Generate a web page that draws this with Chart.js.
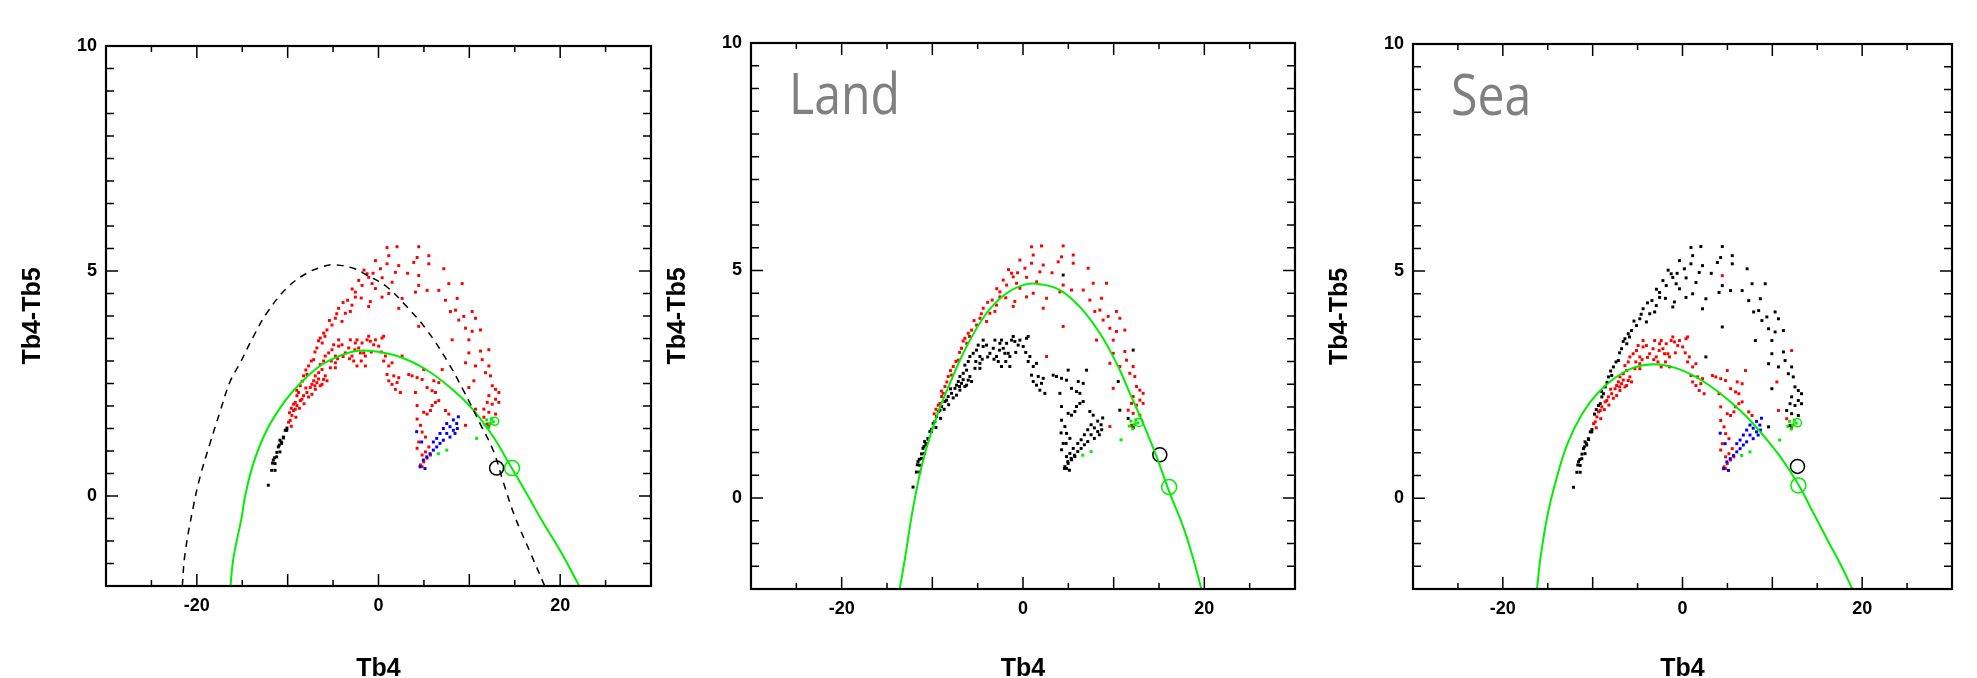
<!DOCTYPE html>
<html>
<head>
<meta charset="utf-8">
<script src="https://cdn.jsdelivr.net/npm/chart.js@4.4.1/dist/chart.umd.min.js"></script>
<style>
  html, body { margin: 0; padding: 0; background: #fff; }
  #wrap { position: relative; width: 1977px; height: 678px; overflow: hidden; background: #fff; }
  #wrap canvas { position: absolute; top: 0; }
</style>
</head>
<body>
<div id="wrap">
  <canvas id="p1" width="690" height="678" style="left:0px"></canvas>
  <canvas id="p2" width="680" height="678" style="left:660px"></canvas>
  <canvas id="p3" width="657" height="678" style="left:1320px"></canvas>
</div>
<script>
// ---- axis ticks (same for the three panels)
const xTickValues = [-30, -25, -20, -15, -10, -5, 0, 5, 10, 15, 20, 25, 30];
const xTickLabels = [-20, 0, 20];
const yTickValues = [-2, -1.5, -1, -0.5, 0, 0.5, 1, 1.5, 2, 2.5, 3, 3.5, 4, 4.5, 5,
  5.5, 6, 6.5, 7, 7.5, 8, 8.5, 9, 9.5, 10];
const yTickLabels = [0, 5, 10];

// ---- pixel classes, shared by all panels [Tb4, Tb4-Tb5]
const tailPts = [[-12.13, 0.24], [-11.76, 0.57], [-11.39, 0.72], [-11.58, 0.80], [-11.21, 0.87],
  [-10.85, 0.98], [-11.03, 1.09], [-10.66, 1.17], [-10.48, 1.31], [-10.85, 1.24], [-10.1, 1.46],
  [-11.39, 0.57], [-10.27, 1.46], [-11.66, 0.73], [-11.44, 0.85], [-11.19, 0.97], [-10.93, 1.13],
  [-10.71, 1.20], [-10.45, 1.29], [-10.08, 1.51]];

const landPts = [[0.94, 5.52], [2.04, 5.54], [4.43, 5.54], [1.13, 5.34], [0.94, 5.16], [2.23, 5.12],
  [1.86, 4.97], [-0.34, 5.23], [0.21, 5.05], [4.25, 5.30], [5.54, 5.34], [3.88, 5.19], [5.54, 5.16],
  [7.19, 5.05], [4.43, 4.68], [4.07, 4.53], [5.35, 4.57], [6.64, 4.57], [7.74, 4.72], [9.21, 4.72],
  [7.37, 4.35], [8.66, 4.39], [8.84, 3.91], [9.39, 3.99], [10.31, 4.10], [10.68, 3.95], [9.58, 3.73],
  [10.31, 3.66], [11.23, 3.69], [9.95, 3.47], [8.11, 3.47], [8.48, 4.13], [7.92, 4.10], [4.43, 3.77],
  [2.60, 4.39], [2.23, 4.17], [1.13, 4.50], [0.39, 4.42], [-1.08, 4.21], [-0.90, 4.32], [-2.18, 4.79],
  [-1.81, 4.68], [-2.55, 4.53], [-1.08, 4.86], [-0.71, 4.72], [-0.34, 4.61], [-1.26, 4.94],
  [-2.55, 4.42], [-2.92, 4.24], [-3.65, 4.06], [-3.10, 4.10], [-4.39, 4.17], [-4.75, 3.95],
  [-4.02, 3.88], [-5.12, 3.80], [-5.67, 3.69], [-6.04, 3.62], [-6.41, 3.51], [-6.78, 3.29],
  [-7.14, 3.03], [-7.69, 2.89], [-7.88, 2.70], [-8.25, 2.67], [-8.61, 2.45], [-8.80, 2.30],
  [-8.98, 2.23], [-9.35, 2.04], [-9.16, 2.08], [-6.2, 3.40], [-5.9, 3.55], [-7.4, 3.00],
  [-8.4, 2.55], [-9.6, 1.95], [-3.4, 4.35], [-1.6, 5.02], [1.5, 4.75], [3.2, 4.95],
  [-9.8, 1.85], [-9.0, 2.35], [-8.0, 2.80], [-7.0, 3.20], [-6.6, 3.45], [-5.4, 3.90], [-4.6, 4.05],
  [-3.9, 4.30], [-2.9, 4.60], [-1.9, 4.40], [-0.6, 4.95], [0.4, 4.85],
  [9.95, 3.18], [9.58, 2.96], [10.68, 2.89], [11.23, 3.22], [11.42, 3.03], [12.15, 2.89],
  [11.78, 2.74], [12.33, 2.67], [12.52, 2.45], [12.89, 2.37], [13.25, 2.30], [12.15, 2.23],
  [12.89, 2.15], [12.52, 2.04], [13.25, 2.08], [11.97, 2.08], [11.60, 1.93], [12.15, 1.86],
  [12.89, 1.82], [9.95, 2.41], [9.58, 1.57], [11.97, 1.60], [2.60, 3.11]];

const seaPts = [[-9.90, 1.64], [-9.72, 1.68], [-9.53, 1.79], [-9.35, 1.90], [-9.16, 1.93],
  [-8.98, 2.01], [-8.61, 2.12], [-8.43, 2.15], [-8.25, 2.23], [-7.88, 2.30], [-7.51, 2.41],
  [-7.33, 2.48], [-7.14, 2.56], [-6.96, 2.67], [-6.59, 2.74], [-6.22, 2.81], [-6.41, 2.92],
  [-6.04, 3.00], [-5.86, 3.11], [-5.49, 3.18], [-5.12, 3.25], [-4.94, 3.36], [-4.75, 3.11],
  [-4.75, 2.96], [-5.67, 2.56], [-6.04, 2.59], [-6.78, 2.52], [-6.96, 2.37], [-7.33, 2.26],
  [-6.41, 2.45], [-5.86, 2.67], [-6.22, 2.48],
  [-9.6, 1.55], [-9.1, 1.75], [-8.7, 1.95], [-8.2, 2.05], [-7.7, 2.20], [-7.0, 2.45], [-6.6, 2.60],
  [-5.3, 2.85], [-4.5, 3.05], [-3.9, 3.10], [-3.2, 3.05], [-2.6, 3.25], [-1.9, 3.00], [-0.8, 3.20],
  [0.3, 3.20], [-5.2, 3.00], [-8.0, 2.40],
  [-4.39, 3.33], [-4.02, 3.36], [-3.65, 3.18], [-3.28, 3.29], [-3.10, 3.47], [-2.92, 3.11],
  [-2.55, 3.40], [-2.37, 3.47], [-2.18, 3.29], [-2.00, 3.18], [-1.81, 3.40], [-1.63, 3.18],
  [-1.45, 3.11], [-1.26, 3.47], [-1.08, 3.55], [-0.90, 3.44], [-0.53, 3.36], [-0.34, 3.47],
  [0.02, 3.33], [0.39, 3.51], [0.57, 3.55], [-2.73, 3.00], [-2.37, 2.89], [-1.45, 2.89],
  [-4.75, 2.85], [-4.39, 3.47],
  [0.76, 3.11], [0.57, 3.00], [1.13, 2.89], [1.49, 2.96], [0.94, 2.70], [1.13, 2.56], [1.49, 2.48],
  [1.86, 2.37], [2.04, 2.52], [2.23, 2.63], [2.41, 2.30], [1.68, 2.67],
  [3.33, 2.70], [3.70, 2.67], [4.25, 2.63], [4.80, 2.59], [4.98, 2.81], [6.09, 2.56], [6.64, 2.52],
  [7.01, 2.81], [5.35, 2.41], [5.90, 2.34], [6.27, 2.30], [4.07, 2.30], [4.25, 2.01], [4.98, 1.86],
  [5.35, 1.82], [5.72, 1.90], [5.90, 2.01], [6.27, 2.08], [6.64, 2.12], [4.25, 1.71], [4.62, 1.57],
  [4.80, 1.42], [5.17, 1.31], [4.43, 1.20], [4.25, 1.06], [5.54, 1.09], [5.17, 0.98], [4.80, 0.91],
  [5.35, 0.84], [4.98, 0.76], [4.80, 0.65], [4.62, 0.69], [5.72, 0.91], [7.37, 1.90], [7.74, 1.82],
  [10.68, 1.93], [10.50, 2.56], [12.15, 3.25], [11.60, 1.75], [4.43, 4.90], [12.15, 1.55]];

const bluePts = [[8.24, 1.69], [8.61, 1.61], [7.87, 1.54], [8.24, 1.46], [7.51, 1.39], [7.87, 1.31],
  [7.14, 1.24], [6.77, 1.17], [6.41, 1.09], [6.04, 1.02], [5.67, 0.94], [5.31, 0.87], [4.94, 0.80],
  [4.57, 0.65], [5.12, 0.61], [4.20, 1.43], [8.79, 1.76], [8.42, 1.39], [8.68, 1.50], [7.51, 1.61],
  [7.14, 1.50], [6.77, 1.39], [6.41, 1.28], [6.04, 1.20], [4.75, 1.20]];

const greenPts = [[11.91, 1.69], [12.28, 1.61], [12.46, 1.72], [12.65, 1.65], [11.72, 1.58],
  [10.81, 1.28], [7.51, 1.02], [6.59, 0.94], [12.1, 1.52]];
const greenRing = [[12.8, 1.66]];

// ---- fitted curves
const fitAll = [[-16.3, -2], [-15.98, -1.39], [-15.06, -0.47], [-14.7, -0.02], [-13.78, 0.72],
  [-12.31, 1.46], [-10.48, 2.06], [-8.64, 2.5], [-6.8, 2.84], [-5.34, 3.02], [-2.77, 3.21],
  [-0.75, 3.22], [2.37, 3.09], [5.31, 2.8], [8.24, 2.35], [10.45, 1.91], [12.65, 1.31],
  [14.5, 0.68], [16.32, 0.05], [17.97, -0.54], [20.1, -1.25], [22.1, -2]];
const fitDashed = [[-21.6, -2], [-21.3, -1.28], [-20.39, -0.24], [-19.65, 0.42], [-18.55, 1.17],
  [-17.45, 1.87], [-16.35, 2.54], [-15.25, 2.95], [-13.78, 3.54], [-12.31, 4.06], [-10.1, 4.62],
  [-7.9, 4.95], [-6.07, 5.1], [-4.97, 5.14], [-2.77, 5.06], [-1.3, 4.91], [0.9, 4.65], [3.1, 4.21],
  [5.31, 3.69], [7.51, 3.02], [9.34, 2.35], [11.18, 1.61], [12.65, 1.0], [13.75, 0.3],
  [15.0, -0.45], [16.7, -1.25], [18.3, -2]];
const fitLand = [[-13.6, -2], [-13.02, -1.33], [-12.1, -0.19], [-11.0, 0.84], [-9.53, 1.79],
  [-8.06, 2.52], [-6.22, 3.33], [-4.02, 4.06], [-1.81, 4.5], [0.39, 4.7], [1.86, 4.7], [4.07, 4.57],
  [6.27, 4.2], [8.48, 3.62], [10.32, 2.96], [11.79, 2.3], [13.25, 1.64], [14.73, 0.91], [16.2, 0.1],
  [17.66, -0.63], [18.77, -1.33], [19.67, -2]];
const fitSea = [[-16.2, -2], [-15.8, -1.3], [-15.0, -0.35], [-14.0, 0.45], [-12.8, 1.2],
  [-11.2, 1.85], [-9.5, 2.3], [-7.5, 2.65], [-5.5, 2.87], [-3.2, 2.95], [-1.0, 2.88], [1.0, 2.72],
  [3.0, 2.48], [5.0, 2.18], [7.0, 1.82], [9.0, 1.38], [11.0, 0.88], [12.9, 0.3], [14.5, -0.3],
  [16.3, -0.98], [17.7, -1.5], [18.9, -2]];

// ---- test points (open circles): [black, green]
const markAll = [[13.0, 0.62], [14.7, 0.62]];
const markLand = [[15.09, 0.95], [16.12, 0.24]];
const markSea = [[12.8, 0.70], [12.9, 0.28]];

const RED = '#ff0000', BLACK = '#000000', BLUE = '#0000ff', GREEN = '#00ee00';
const FONT = '"Liberation Sans", Arial, sans-serif';

const panels = [
  { id: 'p1', canvasLeft: 0, left: 106, right: 651, top: 46, bottom: 586, label: '',
    colors: { tail: BLACK, land: RED, sea: RED, blue: BLUE },
    fit: fitAll, dashed: fitDashed, marks: markAll },
  { id: 'p2', canvasLeft: 660, left: 751, right: 1295, top: 43, bottom: 589, label: 'Land',
    colors: { tail: BLACK, land: RED, sea: BLACK, blue: BLACK },
    fit: fitLand, dashed: null, marks: markLand },
  { id: 'p3', canvasLeft: 1320, left: 1413, right: 1952, top: 44, bottom: 589, label: 'Sea',
    colors: { tail: BLACK, land: BLACK, sea: RED, blue: BLUE },
    fit: fitSea, dashed: null, marks: markSea }
];

const toXY = arr => arr.map(([x, y]) => ({ x, y }));

// inward IDL-style ticks, frame, axis titles and panel label
const panelDeco = {
  id: 'panelDeco',
  afterDraw(chart, args, opts) {
    const { ctx, chartArea: a, scales: { x, y } } = chart;
    ctx.save();
    ctx.strokeStyle = '#000';
    ctx.lineWidth = 1.5;
    ctx.beginPath();
    x.ticks.forEach(t => {
      const px = x.getPixelForValue(t.value);
      const len = t.value % 10 === 0 ? 12 : 6;
      ctx.moveTo(px, a.bottom); ctx.lineTo(px, a.bottom - len);
      ctx.moveTo(px, a.top); ctx.lineTo(px, a.top + len);
    });
    y.ticks.forEach(t => {
      const py = y.getPixelForValue(t.value);
      const len = t.value % 5 === 0 ? 12 : 8;
      ctx.moveTo(a.left, py); ctx.lineTo(a.left + len, py);
      ctx.moveTo(a.right, py); ctx.lineTo(a.right - len, py);
    });
    ctx.stroke();
    ctx.lineWidth = 2.2;
    ctx.strokeRect(a.left, a.top, a.right - a.left, a.bottom - a.top);

    ctx.fillStyle = '#000';
    ctx.font = 'bold 25px ' + FONT;
    ctx.textAlign = 'center';
    ctx.textBaseline = 'alphabetic';
    ctx.fillText('Tb4', (a.left + a.right) / 2, 676);
    ctx.save();
    ctx.translate(a.left - 66, (a.top + a.bottom) / 2);
    ctx.rotate(-Math.PI / 2);
    ctx.fillText('Tb4-Tb5', 0, 0);
    ctx.restore();

    if (opts.label) {
      ctx.save();
      ctx.fillStyle = '#808080';
      ctx.font = '56px "Open Sans", "Noto Sans", sans-serif';
      ctx.textAlign = 'left';
      ctx.translate(a.left + 38, a.top + 71);
      ctx.scale(0.86, 1);
      ctx.fillText(opts.label, 0, 0);
      ctx.restore();
    }
    ctx.restore();
  }
};

function pointSet(data, color, order) {
  return { data: toXY(data), pointStyle: 'rect', pointRadius: 2.1, pointBorderWidth: 0,
    backgroundColor: color, borderColor: color, showLine: false, order };
}

function makePanel(p) {
  const canvas = document.getElementById(p.id);
  const datasets = [
    { data: toXY(p.fit), showLine: true, borderColor: GREEN, borderWidth: 2, pointRadius: 0,
      tension: 0.4, fill: false, order: 0 },
    { data: toXY([p.marks[0]]), pointStyle: 'circle', pointRadius: 7, pointBorderWidth: 1.5,
      borderColor: BLACK, backgroundColor: 'rgba(0,0,0,0)', showLine: false, order: 0 },
    { data: toXY([p.marks[1]]), pointStyle: 'circle', pointRadius: 7.5, pointBorderWidth: 1.5,
      borderColor: GREEN, backgroundColor: 'rgba(0,0,0,0)', showLine: false, order: 0 },
    { data: toXY(greenRing), pointStyle: 'circle', pointRadius: 4, pointBorderWidth: 1.5,
      borderColor: GREEN, backgroundColor: 'rgba(0,0,0,0)', showLine: false, order: 1 },
    pointSet(greenPts, GREEN, 1),
    pointSet(bluePts, p.colors.blue, 2),
    pointSet(landPts, p.colors.land, 3),
    pointSet(seaPts, p.colors.sea, 4),
    pointSet(tailPts, p.colors.tail, 5)
  ];
  if (p.dashed) {
    datasets.unshift({ data: toXY(p.dashed), showLine: true, borderColor: BLACK, borderWidth: 1.5,
      borderDash: [7, 6], pointRadius: 0, tension: 0.4, fill: false, order: 0 });
  }
  const tickFont = { family: FONT, size: 18, weight: 'bold' };
  return new Chart(canvas, {
    type: 'scatter',
    data: { datasets },
    options: {
      responsive: false,
      animation: false,
      events: [],
      layout: { padding: { top: p.top, right: canvas.width - (p.right - p.canvasLeft), bottom: 0, left: 0 } },
      plugins: { legend: { display: false }, tooltip: { enabled: false }, panelDeco: { label: p.label } },
      scales: {
        x: {
          type: 'linear', min: -30, max: 30,
          afterBuildTicks: s => { s.ticks = xTickValues.map(v => ({ value: v })); },
          afterFit: s => { s.height = canvas.height - p.bottom; },
          ticks: { autoSkip: false, maxRotation: 0, padding: 9, color: '#000', font: tickFont,
            callback: v => (xTickLabels.includes(v) ? String(v) : '') },
          grid: { display: false, drawTicks: false },
          border: { display: false }
        },
        y: {
          type: 'linear', min: -2, max: 10,
          afterBuildTicks: s => { s.ticks = yTickValues.map(v => ({ value: v })); },
          afterFit: s => { s.width = p.left - p.canvasLeft; },
          ticks: { autoSkip: false, padding: 9, color: '#000', font: tickFont,
            callback: v => (yTickLabels.includes(v) ? String(v) : '') },
          grid: { display: false, drawTicks: false },
          border: { display: false }
        }
      }
    },
    plugins: [panelDeco]
  });
}

panels.forEach(makePanel);
</script>
</body>
</html>
